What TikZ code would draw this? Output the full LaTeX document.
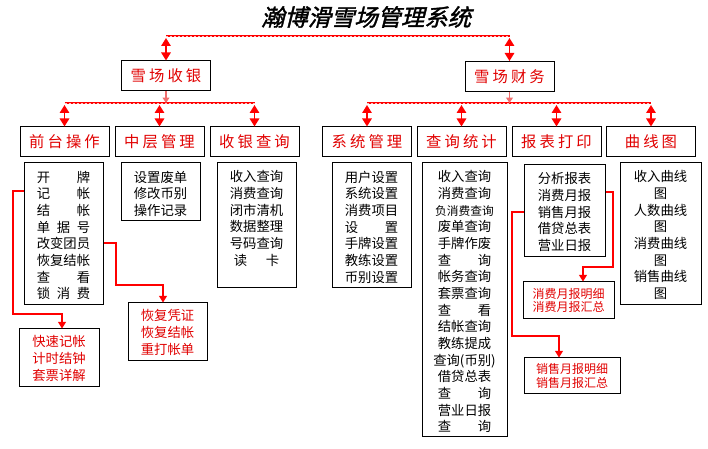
\documentclass[tikz,border=0pt]{standalone}
\usepackage{fontspec}
\setmainfont{Noto Sans CJK SC}
\newfontfamily\titlefont[FakeSlant=0.25,FakeBold=1.5]{Noto Sans CJK SC}
\newfontfamily\lvlfont[LetterSpace=20]{Noto Sans CJK SC}
\usetikzlibrary{arrows.meta}
\definecolor{lred}{RGB}{225,0,0}
\definecolor{pale}{RGB}{240,110,110}
\newcommand{\sprd}[1]{\makebox[4em][s]{#1}}
\newcommand{\hf}{\hfill}
\begin{document}
\begin{tikzpicture}[x=0.75pt,y=-0.75pt,
  bx/.style 2 args={draw=black, line width=0.75pt, minimum width=#1*0.75pt, minimum height=#2*0.75pt, inner sep=0pt},
  lvl/.style={bx={89}{30}, text=lred, font=\lvlfont\fontsize{11.5}{14}\selectfont},
  items/.style={anchor=north, inner sep=0pt, align=center, font=\fontsize{10}{12.5}\selectfont, yshift=-6pt},
  rbox/.style 2 args={bx={#1}{#2}, text=lred, align=center},
  bus/.style={draw=red, line width=2.2pt},
  busdash/.style={draw=red!25, line width=0.6pt, dash pattern=on 1.5pt off 1.5pt},
  dar/.style={draw=red, line width=1.4pt, {Triangle[width=7pt,length=6pt]}-{Triangle[width=7pt,length=6pt]}},
  pal/.style={draw=pale, line width=1pt, -{Triangle[width=5pt,length=4pt]}},
  rl/.style={draw=red, line width=0.8pt, -{Triangle[width=6pt,length=5pt]}}
]
\fill[white] (0,0) rectangle (708,449);
\useasboundingbox (0,0) rectangle (708,449);

\node[font=\titlefont\fontsize{17.5}{20}\selectfont] (title) at (366,17) {瀚博滑雪场管理系统};

% level 1
\node[lvl] (syin) at (166,76) {雪场收银};
\node[lvl] (scw) at (509.5,76.5) {雪场财务};
% level 2
\node[lvl] (qt) at (64.5,142) {前台操作};
\node[lvl] (zc) at (159.5,142) {中层管理};
\node[lvl] (sy) at (254.5,142) {收银查询};
\node[lvl] (xt) at (367,142) {系统管理};
\node[lvl] (cx) at (461.5,142) {查询统计};
\node[lvl] (bb) at (556.5,142) {报表打印};
\node[lvl] (qx) at (651,142) {曲线图};

% content boxes
\node[bx={79}{142}] (b1) at (63.5,234) {};
\node[items] (t1) at (b1.north) {\sprd{开\hf 牌}\\\sprd{记\hf 帐}\\\sprd{结\hf 帐}\\\sprd{单\hf 据\hf 号}\\改变团员\\恢复结帐\\\sprd{查\hf 看}\\\sprd{锁\hf 消\hf 费}};
\node[bx={79}{58}] (b2) at (160.5,192) {};
\node[items] (t2) at (b2.north) {设置废单\\修改币别\\操作记录};
\node[bx={79}{125}] (b3) at (256.5,225.5) {};
\node[items] (t3) at (b3.north) {收入查询\\消费查询\\闭市清机\\数据整理\\号码查询\\\sprd{\hspace{0.3em}读\hf 卡\hspace{0.3em}}};
\node[bx={79}{125}] (b4) at (371.5,225.5) {};
\node[items] (t4) at (b4.north) {用户设置\\系统设置\\消费项目\\\sprd{设\hf 置}\\手牌设置\\教练设置\\币别设置};
\node[bx={85}{274}] (b5) at (464.5,300) {};
\node[items] (t5) at (b5.north) {收入查询\\消费查询\\{\fontsize{8.8}{12.5}\selectfont 负消费查询}\\废单查询\\手牌作废\\\sprd{查\hf 询}\\帐务查询\\套票查询\\\sprd{查\hf 看}\\结帐查询\\教练提成\\查询(币别)\\借贷总表\\\sprd{查\hf 询}\\营业日报\\\sprd{查\hf 询}};
\node[bx={81}{92}] (b6) at (564.5,211) {};
\node[items] (t6) at (b6.north) {分析报表\\消费月报\\销售月报\\借贷总表\\营业日报};
\node[bx={81}{142}] (b7) at (660.5,234) {};
\node[items] (t7) at (b7.north) {收入曲线\\图\\人数曲线\\图\\消费曲线\\图\\销售曲线\\图};

% red boxes
\node[rbox={80}{58}, font=\fontsize{10}{12.75}\selectfont] (r1) at (59,358) {快速记帐\\计时结钟\\套票详解};
\node[rbox={79}{58}, font=\fontsize{10}{12.75}\selectfont] (r2) at (167.5,332) {恢复凭证\\恢复结帐\\重打帐单};
\node[rbox={91}{37}, font=\fontsize{9}{10}\selectfont] (r3) at (568.5,300.5) {消费月报明细\\消费月报汇总};
\node[rbox={96}{36}, font=\fontsize{9}{10}\selectfont] (r4) at (572,376) {销售月报明细\\销售月报汇总};

% buses
\coordinate (tb) at (0,36);
\coordinate (tba) at (0,38);
\coordinate (lb) at (0,103);
\coordinate (lba) at (0,105);
\draw[bus] (syin |- tb) -- (scw |- tb);
\draw[busdash] (syin |- tb) -- (scw |- tb);
\draw[dar] (syin |- tba) -- (syin.north);
\draw[dar] (scw |- tba) -- (scw.north);

\draw[bus] (qt |- lb) -- (sy |- lb);
\draw[busdash] (qt |- lb) -- (sy |- lb);
\draw[bus] (xt |- lb) -- (qx |- lb);
\draw[busdash] (xt |- lb) -- (qx |- lb);
\draw[pal] (syin.south) -- (syin |- lb);
\draw[pal] (scw.south) -- (scw |- lb);
\foreach \n in {qt,zc,sy,xt,cx,bb,qx}{
  \draw[dar] (\n |- lba) -- (\n.north);
}

% elbow connectors
\coordinate (c1a) at (13,191);
\coordinate (c1b) at (62,314);
\draw[rl] (b1.west |- c1a) -- (c1a) |- (c1b) -- (c1b |- r1.north);
\coordinate (c2a) at (116,243);
\coordinate (c2b) at (163,285);
\draw[rl] (b1.east |- c2a) -- (c2a) |- (c2b) -- (c2b |- r2.north);
\coordinate (c3a) at (613,192);
\coordinate (c3b) at (583,267);
\draw[rl] (b6.east |- c3a) -- (c3a) |- (c3b) -- (c3b |- r3.north);
\coordinate (c4a) at (512,212);
\coordinate (c4b) at (559,336);
\draw[rl] (b6.west |- c4a) -- (c4a) |- (c4b) -- (c4b |- r4.north);
\end{tikzpicture}
\end{document}
